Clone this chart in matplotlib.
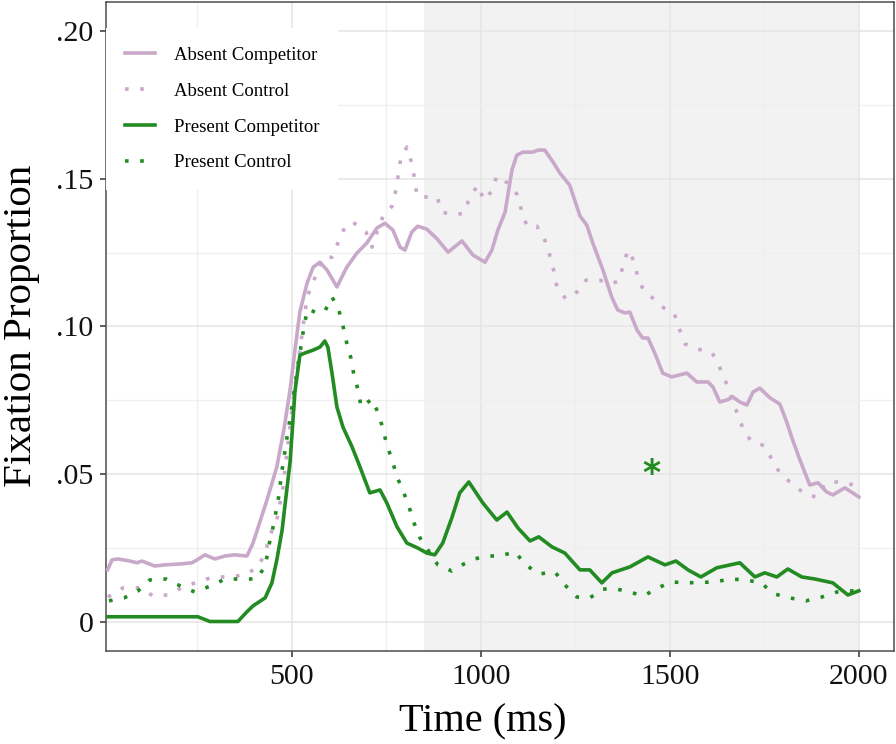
import matplotlib.pyplot as plt

plt.rcParams['font.family'] = ['Liberation Serif', 'DejaVu Serif']

# colours
purple = '#c9a9c9'
green = '#228b22'

# Absent Competitor (solid, purple)
absent_comp_t = [12, 24, 40, 71, 90, 103, 137, 164, 204, 235, 249, 270, 296, 323, 349, 381, 397, 434,
                 460, 480, 495, 508, 521, 540, 556, 574, 593, 619, 645, 672, 698, 725, 746, 767, 786,
                 799, 817, 833, 857, 884, 913, 950, 979, 1011, 1029, 1045, 1064, 1082, 1095, 1111,
                 1138, 1151, 1169, 1191, 1209, 1235, 1262, 1280, 1296, 1323, 1346, 1362, 1381, 1394,
                 1413, 1428, 1442, 1460, 1481, 1505, 1526, 1545, 1571, 1601, 1614, 1632, 1651, 1667,
                 1685, 1704, 1720, 1738, 1765, 1791, 1810, 1823, 1844, 1870, 1892, 1915, 1931, 1963,
                 1984, 2000]
absent_comp = [0.0175, 0.0209, 0.0212, 0.0205, 0.0199, 0.0205, 0.0188, 0.0192, 0.0195, 0.0199, 0.0209,
               0.0226, 0.0212, 0.0222, 0.0226, 0.0222, 0.0266, 0.0412, 0.0524, 0.0660, 0.0785, 0.0920,
               0.1050, 0.1147, 0.1201, 0.1218, 0.1191, 0.1134, 0.1201, 0.1249, 0.1283, 0.1334, 0.1350,
               0.1327, 0.1269, 0.1259, 0.1320, 0.1340, 0.1330, 0.1297, 0.1252, 0.1290, 0.1242, 0.1218,
               0.1259, 0.1327, 0.1388, 0.1530, 0.1581, 0.1591, 0.1591, 0.1598, 0.1598, 0.1557, 0.1520,
               0.1479, 0.1375, 0.1344, 0.1283, 0.1191, 0.1100, 0.1056, 0.1046, 0.1049, 0.0988, 0.0961,
               0.0961, 0.0910, 0.0842, 0.0829, 0.0836, 0.0842, 0.0812, 0.0812, 0.0795, 0.0744, 0.0751,
               0.0761, 0.0744, 0.0734, 0.0778, 0.0791, 0.0758, 0.0737, 0.0673, 0.0622, 0.0548, 0.0463,
               0.0470, 0.0439, 0.0429, 0.0453, 0.0436, 0.0422]

# Absent Control (dotted, purple)
absent_ctrl_t = [13, 53, 98, 132, 172, 212, 251, 291, 331, 376, 410, 429, 442, 460, 476, 503, 540, 582,
                 606, 624, 640, 661, 696, 712, 725, 741, 765, 775, 788, 804, 817, 825, 831, 854, 884,
                 897, 926, 955, 971, 992, 1008, 1029, 1042, 1071, 1095, 1108, 1122, 1148, 1169, 1182,
                 1193, 1201, 1225, 1254, 1278, 1315, 1341, 1365, 1376, 1389, 1405, 1415, 1431, 1458,
                 1484, 1511, 1524, 1540, 1571, 1611, 1630, 1648, 1677, 1693, 1714, 1751, 1772, 1794,
                 1828, 1860, 1889, 1913, 1944, 1987, 2000]
absent_ctrl = [0.0083, 0.0114, 0.0114, 0.0087, 0.0090, 0.0117, 0.0134, 0.0151, 0.0151, 0.0158, 0.0185,
               0.0232, 0.0293, 0.0344, 0.0453, 0.0750, 0.1100, 0.1232, 0.1235, 0.1290, 0.1337, 0.1354,
               0.1320, 0.1269, 0.1320, 0.1374, 0.1408, 0.1462, 0.1571, 0.1608, 0.1554, 0.1496, 0.1442,
               0.1439, 0.1439, 0.1388, 0.1378, 0.1384, 0.1439, 0.1479, 0.1428, 0.1459, 0.1510, 0.1486,
               0.1449, 0.1391, 0.1340, 0.1340, 0.1293, 0.1242, 0.1188, 0.1134, 0.1093, 0.1117, 0.1157,
               0.1157, 0.1144, 0.1154, 0.1205, 0.1259, 0.1222, 0.1168, 0.1120, 0.1093, 0.1063, 0.1046,
               0.0995, 0.0941, 0.0924, 0.0913, 0.0866, 0.0812, 0.0710, 0.0656, 0.0612, 0.0595, 0.0544,
               0.0497, 0.0463, 0.0429, 0.0422, 0.0470, 0.0473, 0.0463, 0.0460]

# Present Competitor (solid, green)
present_comp_t = [13, 251, 283, 357, 381, 397, 429, 447, 460, 474, 481, 495, 508, 521, 534, 556, 574,
                  587, 595, 606, 619, 635, 659, 680, 706, 733, 751, 778, 804, 833, 857, 878, 899, 923,
                  944, 968, 1005, 1042, 1069, 1098, 1130, 1153, 1188, 1222, 1262, 1288, 1320, 1347,
                  1394, 1442, 1487, 1516, 1548, 1582, 1624, 1685, 1725, 1751, 1783, 1812, 1849, 1884,
                  1931, 1971, 2000]
present_comp = [0.0016, 0.0016, 0.0000, 0.0000, 0.0033, 0.0053, 0.0080, 0.0131, 0.0209, 0.0310, 0.0388,
                0.0540, 0.0780, 0.0903, 0.0910, 0.0920, 0.0930, 0.0951, 0.0930, 0.0842, 0.0727, 0.0659,
                0.0592, 0.0524, 0.0436, 0.0446, 0.0402, 0.0321, 0.0266, 0.0249, 0.0232, 0.0226, 0.0266,
                0.0351, 0.0436, 0.0473, 0.0402, 0.0344, 0.0371, 0.0317, 0.0273, 0.0287, 0.0253, 0.0232,
                0.0175, 0.0175, 0.0131, 0.0165, 0.0185, 0.0219, 0.0192, 0.0205, 0.0175, 0.0151, 0.0182,
                0.0199, 0.0151, 0.0165, 0.0151, 0.0178, 0.0151, 0.0144, 0.0131, 0.0090, 0.0104]

# Present Control (dotted, green)
present_ctrl_t = [16, 56, 93, 124, 167, 204, 243, 286, 323, 368, 407, 431, 436, 447, 455, 463, 474, 487,
                  500, 508, 519, 526, 532, 542, 566, 587, 606, 624, 635, 645, 656, 664, 675, 683, 712,
                  728, 741, 751, 765, 778, 794, 810, 823, 839, 886, 923, 955, 984, 1013, 1050, 1090,
                  1119, 1153, 1196, 1222, 1254, 1288, 1323, 1360, 1392, 1431, 1468, 1505, 1545, 1619,
                  1659, 1701, 1741, 1775, 1817, 1860, 1902, 1942, 1984, 2000]
present_ctrl = [0.0070, 0.0080, 0.0104, 0.0141, 0.0144, 0.0121, 0.0100, 0.0121, 0.0144, 0.0144, 0.0144,
                0.0192, 0.0243, 0.0300, 0.0354, 0.0405, 0.0514, 0.0625, 0.0727, 0.0802, 0.0896, 0.0947,
                0.1005, 0.1059, 0.1046, 0.1052, 0.1100, 0.1056, 0.1002, 0.0944, 0.0893, 0.0835, 0.0785,
                0.0727, 0.0754, 0.0707, 0.0653, 0.0598, 0.0548, 0.0490, 0.0443, 0.0388, 0.0334, 0.0283,
                0.0192, 0.0171, 0.0195, 0.0212, 0.0222, 0.0222, 0.0236, 0.0192, 0.0161, 0.0168, 0.0124,
                0.0083, 0.0080, 0.0110, 0.0110, 0.0100, 0.0087, 0.0114, 0.0134, 0.0131, 0.0134, 0.0144,
                0.0141, 0.0131, 0.0094, 0.0080, 0.0070, 0.0083, 0.0100, 0.0104, 0.0104]

# analysis window and significance marker
window = [850, 2000]
star_t, star_v = 1450, 0.052

x_ticks = [500, 1000, 1500, 2000]
x_minor = [250, 750, 1250, 1750]
y_ticks = [0, 0.05, 0.10, 0.15, 0.20]
y_minor = [0.025, 0.075, 0.125, 0.175]
y_labels = ['0', '.05', '.10', '.15', '.20']

fig = plt.figure(figsize=(8.96, 7.44), dpi=100)
ax = fig.add_axes([106 / 896, 93 / 744, 788 / 896, 649 / 744])

ax.axvspan(window[0], window[1], color='#f2f2f2', lw=0, zorder=0)

lw = 2.6
dots = (0, (1, 3.2))
ax.plot(absent_comp_t, absent_comp, color=purple, lw=lw, label='Absent Competitor', zorder=3)
ax.plot(absent_ctrl_t, absent_ctrl, color=purple, lw=lw, ls=dots, dash_capstyle='butt',
        label='Absent Control', zorder=3)
ax.plot(present_comp_t, present_comp, color=green, lw=lw, label='Present Competitor', zorder=4)
ax.plot(present_ctrl_t, present_ctrl, color=green, lw=lw, ls=dots, dash_capstyle='butt',
        label='Present Control', zorder=4)

ax.annotate('*', (star_t, star_v), xytext=(0, -4), textcoords='offset points', color=green,
            fontsize=25, fontweight='bold', ha='center', va='center', family=['DejaVu Sans'])

ax.set_xlim(8, 2093)
ax.set_ylim(-0.01, 0.21)
ax.set_xticks(x_ticks)
ax.set_xticks(x_minor, minor=True)
ax.set_yticks(y_ticks)
ax.set_yticks(y_minor, minor=True)
ax.set_yticklabels(y_labels)

ax.set_axisbelow(True)
ax.grid(which='major', color='#e6e6e6', lw=1.2)
ax.grid(which='minor', color='#efefef', lw=0.9)
ax.tick_params(which='major', length=4, width=1.1, color='#333333', labelsize=21.5,
               labelcolor='#111111', pad=5)
ax.tick_params(which='minor', length=0)
for s in ax.spines.values():
    s.set_color('#4d4d4d')
    s.set_linewidth(1.1)

leg = ax.legend(loc='upper left', bbox_to_anchor=(0, 0.96), borderaxespad=0, fontsize=13.5,
                handlelength=1.6, handletextpad=1.0, labelspacing=1.0, borderpad=1.0,
                frameon=True, fancybox=False, framealpha=1)
leg.get_frame().set_edgecolor('white')
leg.get_frame().set_linewidth(0)

fig.text(483 / 896, 1 - 722 / 744, 'Time (ms)', fontsize=29, ha='center', va='center')
fig.text(22 / 896, 1 - 326 / 744, 'Fixation Proportion', fontsize=29.5, rotation=90,
         ha='center', va='center')

fig.savefig('out.png', dpi=100)
